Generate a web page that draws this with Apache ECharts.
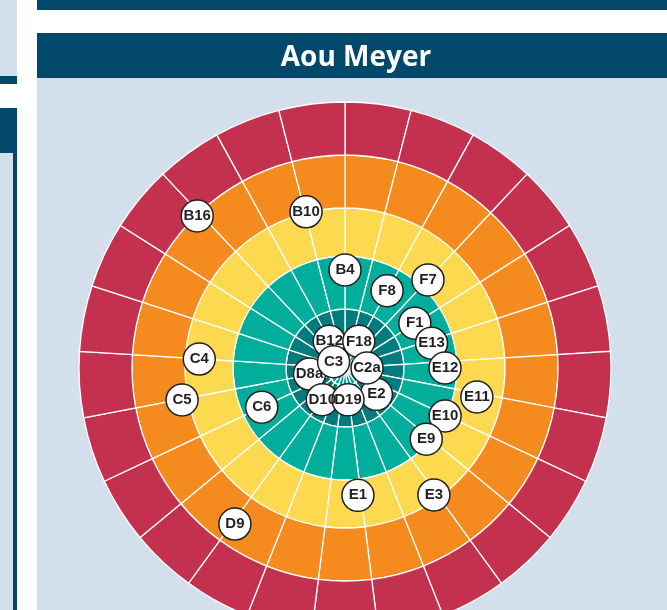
<!DOCTYPE html>
<html>
<head>
<meta charset="utf-8">
<script src="https://cdn.jsdelivr.net/npm/echarts@6/dist/echarts.min.js"></script>
<style>
  html, body { margin: 0; padding: 0; background: #ffffff; }
  #chart { width: 667px; height: 610px; }
</style>
</head>
<body>
<div id="chart"></div>
<script>
  'use strict'

  /*----- data -----*/
  var title = 'Aou Meyer';

  // 25 equal sectors round the target
  var sectors = ['1','2','3','4','5','6','7','8','9','10','11','12','13',
    '14','15','16','17','18','19','20','21','22','23','24','25'];

  // rings, inner to outer, with their outer radius
  var ringNames = ['centre', 'inner', 'teal', 'yellow', 'orange', 'red'];
  var ringOuter = [18, 59, 112, 160, 213, 266];
  var ringColors = ['#00a99a', '#007b7e', '#00ae9b', '#fdd94f', '#f58a1f', '#c4314f'];

  // markers: radius and angle (degrees, counter-clockwise from east)
  var markerNames = ['B16','B10','B4','F8','F7','F1','E13','E12','E11','E10','E9','E3','E1',
    'D9','C6','C5','C4','E2','D8a','B12','F18','D10','D19','C2a','C3'];
  var markerRadius = [212, 161, 98, 88, 121, 83, 90, 100, 135, 111, 108, 155, 128,
    191, 92, 166, 146, 41, 36, 31, 30, 39, 32, 22, 13];
  var markerAngle = [134.2, 104.0, 90.0, 61.4, 46.7, 32.7, 16.0, 0.0, 347.6, 334.4, 318.8, 305.0, 275.8,
    234.8, 205.2, 191.1, 176.5, 320.0, 189.7, 120.6, 62.6, 234.3, 275.4, 0.0, 151.4];

  var navy = '#02486b';
  var panel = '#d3dfea';

  /*----- series -----*/
  var ringSeries = ringNames.map(function (name, i) {
    var width = ringOuter[i] - (i ? ringOuter[i - 1] : 0);
    return {
      name: name,
      type: 'bar',
      coordinateSystem: 'polar',
      polarIndex: 0,
      stack: 'rings',
      barCategoryGap: '0%',
      silent: true,
      data: sectors.map(function () { return width; }),
      itemStyle: { color: ringColors[i], borderColor: '#ffffff', borderWidth: 1.3 }
    };
  });

  var markerData = markerNames.map(function (n, i) {
    return { name: n, value: [markerRadius[i], markerAngle[i]] };
  });

  var option = {
    animation: false,
    title: {
      text: title,
      left: 351,
      top: 39,
      textAlign: 'center',
      textStyle: { color: '#ffffff', fontFamily: 'Open Sans', fontWeight: 'bold', fontSize: 28 }
    },
    graphic: [
      { type: 'rect', z: -10, shape: { x: 0, y: 0, width: 17, height: 76 }, style: { fill: panel } },
      { type: 'rect', z: -10, shape: { x: 0, y: 76, width: 17, height: 8 }, style: { fill: navy } },
      { type: 'rect', z: -10, shape: { x: 0, y: 108, width: 17, height: 45 }, style: { fill: navy } },
      { type: 'rect', z: -10, shape: { x: 0, y: 153, width: 13, height: 457 }, style: { fill: panel } },
      { type: 'rect', z: -10, shape: { x: 13, y: 153, width: 4, height: 457 }, style: { fill: navy } },
      { type: 'rect', z: -10, shape: { x: 37, y: 0, width: 630, height: 10 }, style: { fill: navy } },
      { type: 'rect', z: -10, shape: { x: 37, y: 33, width: 630, height: 45 }, style: { fill: navy } },
      { type: 'rect', z: -10, shape: { x: 37, y: 78, width: 630, height: 532 }, style: { fill: panel } }
    ],
    polar: [
      { center: [345, 368], radius: 266 },
      { center: [345, 368], radius: 266 }
    ],
    angleAxis: [
      {
        polarIndex: 0, type: 'category', data: sectors, startAngle: 90, clockwise: true,
        axisLine: { show: false }, axisTick: { show: false }, axisLabel: { show: false },
        splitLine: { show: false }
      },
      {
        polarIndex: 1, type: 'value', min: 0, max: 360, startAngle: 0, clockwise: false,
        axisLine: { show: false }, axisTick: { show: false }, axisLabel: { show: false },
        splitLine: { show: false }
      }
    ],
    radiusAxis: [
      {
        polarIndex: 0, type: 'value', min: 0, max: 266,
        axisLine: { show: false }, axisTick: { show: false }, axisLabel: { show: false },
        splitLine: { show: false }
      },
      {
        polarIndex: 1, type: 'value', min: 0, max: 266,
        axisLine: { show: false }, axisTick: { show: false }, axisLabel: { show: false },
        splitLine: { show: false }
      }
    ],
    series: ringSeries.concat([{
      name: 'markers',
      type: 'scatter',
      coordinateSystem: 'polar',
      polarIndex: 1,
      z: 5,
      symbol: 'circle',
      symbolSize: 32,
      data: markerData,
      itemStyle: { color: '#ffffff', borderColor: '#231f20', borderWidth: 1.5, opacity: 1 },
      label: {
        show: true,
        position: 'inside',
        formatter: '{b}',
        color: '#231f20',
        fontFamily: '"Liberation Sans", Arial, sans-serif',
        fontWeight: 'bold',
        fontSize: 15
      }
    }])
  };

  var chart = echarts.init(document.getElementById('chart'));
  chart.setOption(option);
</script>
</body>
</html>
